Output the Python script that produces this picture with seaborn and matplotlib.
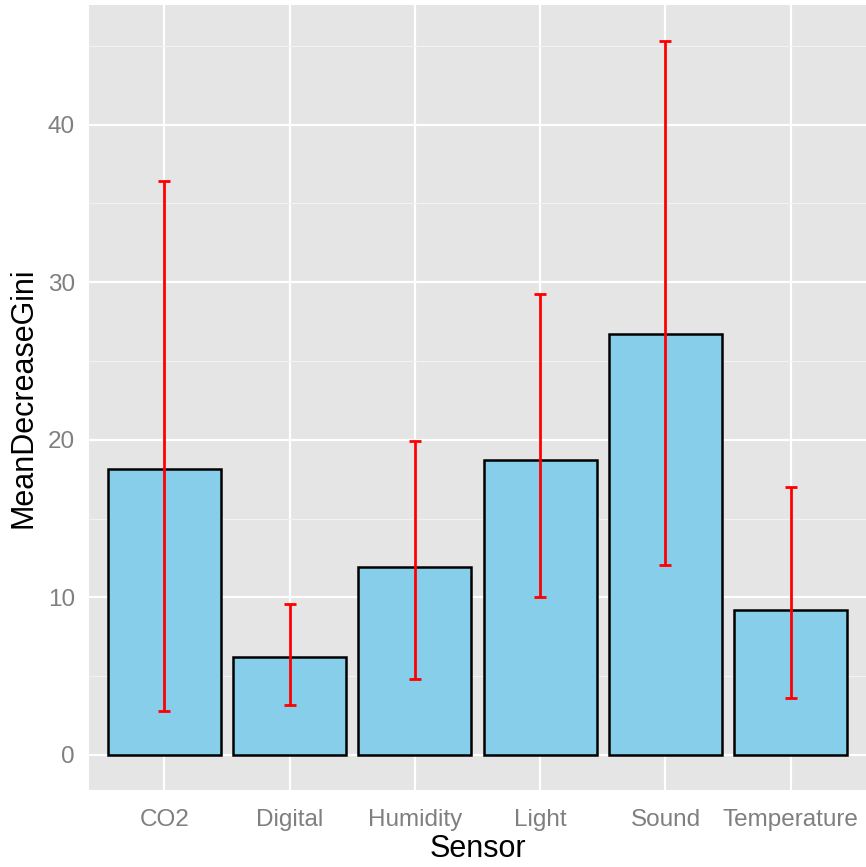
"""Mean decrease in Gini by sensor, ggplot-style bar chart with error bars."""

import matplotlib.pyplot as plt
import pandas as pd
import seaborn as sns
from matplotlib.ticker import MultipleLocator

# Data
sensors = ["CO2", "Digital", "Humidity", "Light", "Sound", "Temperature"]
mean_gini = [18.15, 6.22, 11.94, 18.73, 26.73, 9.21]
err_low = [2.8, 3.17, 4.83, 10.03, 12.06, 3.6]
err_high = [36.4, 9.59, 19.94, 29.27, 45.33, 17.02]

df = pd.DataFrame(
    {"Sensor": sensors, "MeanDecreaseGini": mean_gini, "lo": err_low, "hi": err_high}
)

sns.set_theme(style="darkgrid")
plt.rcParams["font.family"] = ["Liberation Sans", "DejaVu Sans"]

fig = plt.figure(figsize=(8.66, 8.67), dpi=100)
ax = fig.add_axes([89 / 866, 77 / 867, 777 / 866, 785 / 867])
ax.set_facecolor("#E5E5E5")

sns.barplot(
    data=df,
    x="Sensor",
    y="MeanDecreaseGini",
    color="#87CEEB",
    saturation=1,
    width=0.9,
    edgecolor="black",
    linewidth=1.8,
    errorbar=None,
    ax=ax,
    zorder=3,
)

# Error bars from the low/high columns
ax.errorbar(
    x=range(len(df)),
    y=df["MeanDecreaseGini"],
    yerr=[df["MeanDecreaseGini"] - df["lo"], df["hi"] - df["MeanDecreaseGini"]],
    fmt="none",
    ecolor="red",
    elinewidth=2,
    capsize=4.3,
    capthick=2,
    zorder=4,
)

ax.set_xlim(-0.6, 5.6)
ax.set_ylim(-2.23, 47.6)
ax.yaxis.set_major_locator(MultipleLocator(10))
ax.yaxis.set_minor_locator(MultipleLocator(5))
ax.grid(which="major", color="white", linewidth=1.6, zorder=0)
ax.grid(which="minor", axis="y", color="#F2F2F2", linewidth=0.8, zorder=0)
ax.set_axisbelow(True)
for s in ax.spines.values():
    s.set_visible(False)

ax.tick_params(
    axis="both", which="major", length=5, width=1.5, color="#7F7F7F",
    labelcolor="#7F7F7F", labelsize=17.5, pad=5,
)
ax.tick_params(axis="x", which="major", pad=9)
ax.tick_params(axis="y", which="minor", length=0)
ax.set_xlabel("Sensor", fontsize=22, labelpad=2, color="black")
ax.set_ylabel("MeanDecreaseGini", fontsize=22, labelpad=7, color="black")

fig.savefig("out.png", dpi=100)
